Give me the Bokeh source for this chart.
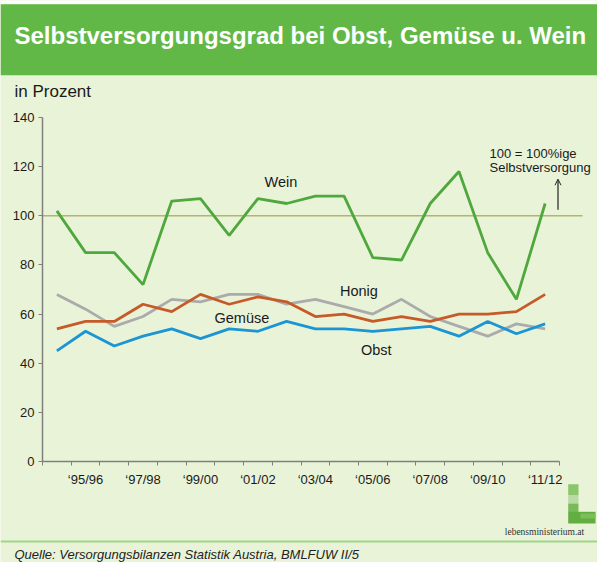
from bokeh.plotting import figure
from bokeh.models import (Range1d, FixedTicker, Label, BoxAnnotation, Arrow, OpenHead)
from bokeh.embed import file_html
from bokeh.resources import INLINE

# ---------------- data ----------------
categories = ["‘94/95", "‘95/96", "‘96/97", "‘97/98", "‘98/99", "‘99/00", "‘00/01", "‘01/02",
              "‘02/03", "‘03/04", "‘04/05", "‘05/06", "‘06/07", "‘07/08", "‘08/09", "‘09/10",
              "‘10/11", "‘11/12"]
wein = [102, 85, 85, 72, 106, 107, 92, 107, 105, 108, 108, 83, 82, 105, 118, 85, 66, 105]
gemuese = [54, 57, 57, 64, 61, 68, 64, 67, 65, 59, 60, 57, 59, 57, 60, 60, 61, 68]
honig = [68, 62, 55, 59, 66, 65, 68, 68, 64, 66, 63, 60, 66, 59, 55, 51, 56, 54]
obst = [45, 53, 47, 51, 54, 50, 54, 53, 57, 54, 54, 53, 54, 55, 51, 57, 52, 56]
y_ticks = [0, 20, 40, 60, 80, 100, 120, 140]
y_max = 140
reference_level = 100

title_text = "Selbstversorgungsgrad bei Obst, Gemüse u. Wein"
unit_text = "in Prozent"
source_text = "Quelle: Versorgungsbilanzen Statistik Austria, BMLFUW II/5"
logo_text = "lebensministerium.at"
ref_note = ["100 = 100%ige", "Selbstversorgung"]

# ---------------- style / geometry ----------------
BG = "#E9F3D8"
TITLE_GREEN = "#62B847"
C_WEIN = "#4FA83D"
C_GEM = "#C65A28"
C_HON = "#ABABAB"
C_OBST = "#1B95D3"
C_REF = "#B3B66A"
AX = "#7F7F7F"
TXT = "#1A1A1A"
FONT = "Liberation Sans"
W, H = 597, 562
n = len(categories)
# plot area on the canvas (pixels): left edge, right edge of last category, top, bottom
AX_L, AX_R, AX_T, AX_B = 42, 559, 117, 461
PX = (AX_R - AX_L) / n          # px per category
PY = (AX_B - AX_T) / y_max      # px per percent


def cx(px):
    return (px - AX_L) / PX


def cy(py):
    return (AX_B - py) / PY


p = figure(width=W, height=H, x_range=Range1d(cx(0), cx(W)), y_range=Range1d(cy(H), cy(0)),
           output_backend="svg", toolbar_location=None, min_border=0)
p.background_fill_color = BG
p.border_fill_color = BG
p.outline_line_color = None
p.grid.visible = False

# y axis, pinned at x = 0
p.yaxis.fixed_location = 0
p.yaxis.ticker = FixedTicker(ticks=y_ticks)
p.yaxis.bounds = (0, y_max)
p.yaxis.axis_line_color = AX
p.yaxis.axis_line_width = 1.5
p.yaxis.major_tick_line_color = AX
p.yaxis.major_tick_out = 4
p.yaxis.major_tick_in = 0
p.yaxis.minor_tick_line_color = None
p.yaxis.major_label_standoff = 4
p.yaxis.major_label_text_font = FONT
p.yaxis.major_label_text_font_size = "13px"
p.yaxis.major_label_text_color = TXT

# x axis, pinned at y = 0; labels centred on every other category, ticks at borders
label_pos = [i + 0.5 for i in range(1, n, 2)]
p.xaxis.fixed_location = 0
p.xaxis.ticker = FixedTicker(ticks=label_pos, minor_ticks=list(range(n + 1)))
p.xaxis.major_label_overrides = {i + 0.5: categories[i] for i in range(1, n, 2)}
p.xaxis.bounds = (0, n)
p.xaxis.axis_line_color = AX
p.xaxis.axis_line_width = 1.5
p.xaxis.major_tick_out = 0
p.xaxis.major_tick_in = 0
p.xaxis.major_tick_line_color = None
p.xaxis.minor_tick_out = 4
p.xaxis.minor_tick_in = 0
p.xaxis.minor_tick_line_color = AX
p.xaxis.major_label_standoff = 6
p.xaxis.major_label_text_font = FONT
p.xaxis.major_label_text_font_size = "13px"
p.xaxis.major_label_text_color = TXT


def box(l, r, t, b, color):
    p.add_layout(BoxAnnotation(left=cx(l), right=cx(r), top=cy(t), bottom=cy(b), fill_color=color,
                               fill_alpha=1.0, line_color=None, level="underlay"))


def label(x, y, t, size, color=TXT, style="normal", font=FONT, align="left"):
    p.add_layout(Label(x=x, y=y, text=t, text_font=font, text_font_size=size,
                       text_color=color, text_font_style=style,
                       text_baseline="middle", text_align=align))


# header
box(0, W, 0, 3.7, "#FFFFFF")
box(0, W, 3.7, 74.7, TITLE_GREEN)
label(cx(14), cy(35), title_text, "24px", color="#FFFFFF", style="bold")
label(cx(14), cy(91), unit_text, "17px")

# reference line (runs a little past the last category)
p.segment(x0=[0], x1=[cx(582)], y0=[reference_level], y1=[reference_level],
          line_color=C_REF, line_width=1.5)

xs = [i + 0.5 for i in range(n)]
p.line(xs, honig, line_color=C_HON, line_width=2.8)
p.line(xs, gemuese, line_color=C_GEM, line_width=2.8)
p.line(xs, obst, line_color=C_OBST, line_width=2.8)
p.line(xs, wein, line_color=C_WEIN, line_width=2.8)

label(cx(264), cy(181), "Wein", "14.5px")
label(cx(339.5), cy(290), "Honig", "14.5px")
label(cx(214), cy(317), "Gemüse", "14.5px")
label(cx(360.5), cy(349), "Obst", "14.5px")
label(cx(489), cy(152.7), ref_note[0], "13px")
label(cx(489), cy(167), ref_note[1], "13px")
p.add_layout(Arrow(end=OpenHead(size=6, line_width=1, line_color="#222222"),
                   x_start=cx(557.5), y_start=cy(209.3), x_end=cx(557.5), y_end=cy(178.7),
                   line_width=1.2, line_color="#222222"))

# footer: logo "L", site name, separator, source
box(567.7, 578, 483.7, 495, "#8CC66C")
box(567.7, 578, 495, 503, "#B9DAA2")
box(567.7, 578, 503, 512, "#7ABB59")
box(567.7, 595, 511.3, 523, "#62AE40")
box(580, 595, 513, 518, "#7CBD5C")
label(cx(544), cy(531), logo_text, "9.5px", color="#333333", font="Liberation Serif", align="center")
box(0, W, 540, 542, "#A3D38C")
label(cx(14), cy(554.3), source_text, "13px", color="#222222", style="italic")

open("out.html", "w").write(file_html(p, INLINE))
